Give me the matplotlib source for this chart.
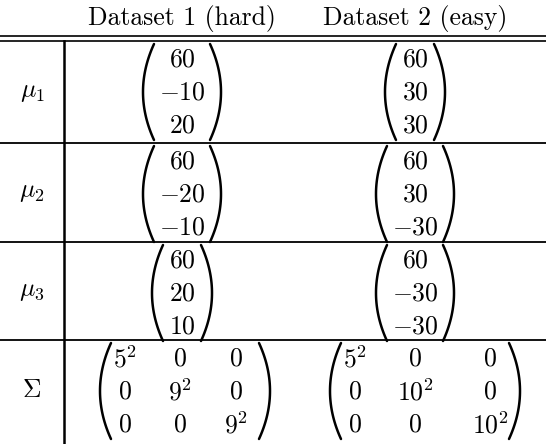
import matplotlib
matplotlib.use("Agg")
import numpy as np
import matplotlib.pyplot as plt

plt.rcParams['font.family'] = 'serif'
plt.rcParams['font.serif'] = ['cmr10']
plt.rcParams['mathtext.fontset'] = 'cm'
plt.rcParams['axes.unicode_minus'] = False

headers = ['Dataset 1 (hard)', 'Dataset 2 (easy)']
row_labels = [r'$\mu_1$', r'$\mu_2$', r'$\mu_3$', r'$\Sigma$']
mu1 = [[60, -10, 20], [60, 30, 30]]
mu2 = [[60, -20, -10], [60, 30, -30]]
mu3 = [[60, 20, 10], [60, -30, -30]]
sigma = [[['5^2', '0', '0'], ['0', '9^2', '0'], ['0', '0', '9^2']],
         [['5^2', '0', '0'], ['0', '10^2', '0'], ['0', '0', '10^2']]]

fig = plt.figure(figsize=(5.46, 4.44), dpi=100)
ax = fig.add_axes([0, 0, 1, 1])
ax.set_xlim(0, 546)
ax.set_ylim(444, 0)
ax.axis('off')

fs = 18.5
col_x = [182, 415]
row_top = [41, 143, 242, 340]
row_bot = [143, 242, 340, 440]

def paren(x_in, ymid, h, left):
    # parabola-shaped bracket; x_in is where its ends sit
    t = np.linspace(-1, 1, 60)
    b = 11
    y = ymid + t * h / 2
    x = x_in - b * (1 - t ** 2) if left else x_in + b * (1 - t ** 2)
    ax.plot(x, y, color='black', lw=1.8, solid_capstyle='round')

# header
for x, h in zip(col_x, headers):
    ax.text(x, 18, h, ha='center', va='center', fontsize=fs)
ax.plot([0, 546], [36, 36], color='black', lw=1.2)
ax.plot([0, 546], [41, 41], color='black', lw=1.2)
ax.plot([64, 64], [41, 444], color='black', lw=1.8)
for y in row_bot[:-1]:
    ax.plot([0, 546], [y, y], color='black', lw=1.3)

for r, lab in enumerate(row_labels):
    ax.text(32, (row_top[r] + row_bot[r]) / 2, lab, ha='center', va='center', fontsize=fs)

# vectors
for r, vecs in enumerate([mu1, mu2, mu3]):
    top = row_top[r]
    ys = [top + 19, top + 52, top + 85]
    for c, vec in enumerate(vecs):
        for y, v in zip(ys, vec):
            ax.text(col_x[c], y, '$' + str(v) + '$', ha='center', va='center', fontsize=fs)
        neg = any(v < 0 for v in vec[1:])
        half = 22 if neg else 13
        paren(col_x[c] - half - 6, top + 51, 96, True)
        paren(col_x[c] + half + 6, top + 51, 96, False)

# covariance matrices
mat_cols = [[125, 180, 236], [355, 415, 490]]
mat_parens = [[111, 259], [341, 509]]
top = row_top[3]
ys = [top + 19, top + 52, top + 85]
for c, mat in enumerate(sigma):
    for y, row in zip(ys, mat):
        for x, v in zip(mat_cols[c], row):
            ax.text(x, y, '$' + v + '$', ha='center', va='center', fontsize=fs)
    paren(mat_parens[c][0], top + 51, 96, True)
    paren(mat_parens[c][1], top + 51, 96, False)

fig.savefig('out.png', dpi=100)
